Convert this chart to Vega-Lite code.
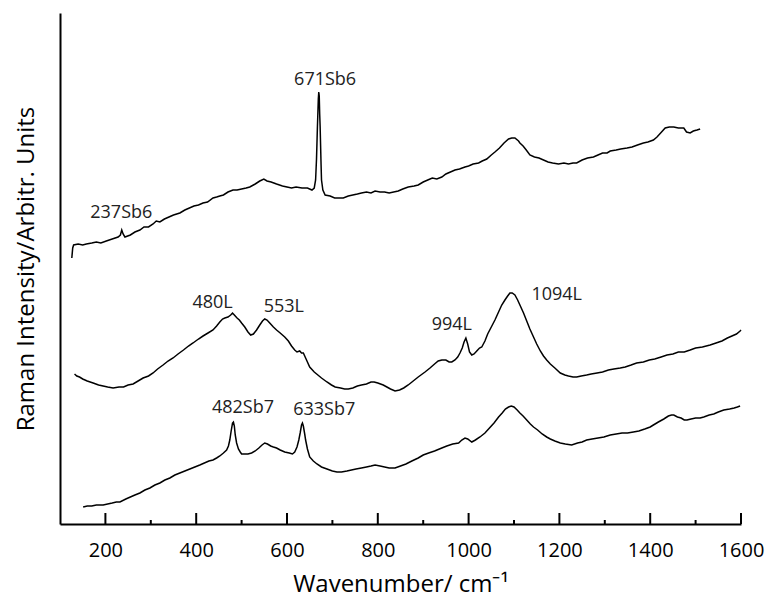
{
  "$schema": "https://vega.github.io/schema/vega-lite/v6.json",
  "autosize": {"type": "none"},
  "width": 681,
  "height": 511,
  "padding": {"left": 60, "top": 13, "right": 27, "bottom": 77},
  "background": "white",
  "config": {
    "view": {"stroke": null},
    "font": "Open Sans",
    "axis": {"grid": false, "domainColor": "black", "domainWidth": 2, "tickColor": "black", "labelColor": "black", "titleColor": "black", "labelFont": "Open Sans", "titleFont": "Open Sans", "titleFontWeight": "normal"}
  },
  "datasets": {
    "spectra": [
      {"s":"Sb6","x":126,"y":266},{"s":"Sb6","x":128,"y":276},{"s":"Sb6","x":130,"y":279},{"s":"Sb6","x":140,"y":280},{"s":"Sb6","x":150,"y":279},{"s":"Sb6","x":158,"y":280},{"s":"Sb6","x":170,"y":281},{"s":"Sb6","x":180,"y":282},{"s":"Sb6","x":190,"y":281},{"s":"Sb6","x":202,"y":283},{"s":"Sb6","x":215,"y":285},{"s":"Sb6","x":228,"y":287},{"s":"Sb6","x":233,"y":289},{"s":"Sb6","x":236,"y":294},{"s":"Sb6","x":239,"y":290},{"s":"Sb6","x":243,"y":287},{"s":"Sb6","x":255,"y":289},{"s":"Sb6","x":265,"y":292},{"s":"Sb6","x":276,"y":294},{"s":"Sb6","x":285,"y":297},{"s":"Sb6","x":295,"y":297},{"s":"Sb6","x":305,"y":300},{"s":"Sb6","x":312,"y":303},{"s":"Sb6","x":320,"y":302},{"s":"Sb6","x":330,"y":305},{"s":"Sb6","x":340,"y":307},{"s":"Sb6","x":350,"y":309},{"s":"Sb6","x":364,"y":311},{"s":"Sb6","x":375,"y":314},{"s":"Sb6","x":385,"y":316},{"s":"Sb6","x":395,"y":318},{"s":"Sb6","x":405,"y":319},{"s":"Sb6","x":415,"y":321},{"s":"Sb6","x":425,"y":322},{"s":"Sb6","x":437,"y":326},{"s":"Sb6","x":445,"y":327},{"s":"Sb6","x":452,"y":328},{"s":"Sb6","x":460,"y":329},{"s":"Sb6","x":470,"y":332},{"s":"Sb6","x":481,"y":334},{"s":"Sb6","x":490,"y":334},{"s":"Sb6","x":500,"y":335},{"s":"Sb6","x":510,"y":336},{"s":"Sb6","x":518,"y":337},{"s":"Sb6","x":530,"y":340},{"s":"Sb6","x":540,"y":343},{"s":"Sb6","x":549,"y":345},{"s":"Sb6","x":556,"y":343},{"s":"Sb6","x":565,"y":342},{"s":"Sb6","x":577,"y":340},{"s":"Sb6","x":590,"y":338},{"s":"Sb6","x":600,"y":337},{"s":"Sb6","x":610,"y":336},{"s":"Sb6","x":620,"y":337},{"s":"Sb6","x":633,"y":336},{"s":"Sb6","x":645,"y":336},{"s":"Sb6","x":655,"y":334},{"s":"Sb6","x":660,"y":336},{"s":"Sb6","x":663,"y":344},{"s":"Sb6","x":665,"y":365},{"s":"Sb6","x":667,"y":397},{"s":"Sb6","x":669,"y":425},{"s":"Sb6","x":670,"y":432},{"s":"Sb6","x":671,"y":428},{"s":"Sb6","x":672,"y":410},{"s":"Sb6","x":673,"y":397},{"s":"Sb6","x":675,"y":360},{"s":"Sb6","x":676,"y":344},{"s":"Sb6","x":679,"y":334},{"s":"Sb6","x":684,"y":329},{"s":"Sb6","x":695,"y":328},{"s":"Sb6","x":705,"y":326},{"s":"Sb6","x":715,"y":326},{"s":"Sb6","x":724,"y":326},{"s":"Sb6","x":735,"y":328},{"s":"Sb6","x":745,"y":329},{"s":"Sb6","x":755,"y":330},{"s":"Sb6","x":764,"y":331},{"s":"Sb6","x":775,"y":332},{"s":"Sb6","x":785,"y":331},{"s":"Sb6","x":794,"y":333},{"s":"Sb6","x":805,"y":332},{"s":"Sb6","x":815,"y":332},{"s":"Sb6","x":825,"y":331},{"s":"Sb6","x":835,"y":332},{"s":"Sb6","x":845,"y":333},{"s":"Sb6","x":855,"y":335},{"s":"Sb6","x":867,"y":337},{"s":"Sb6","x":880,"y":338},{"s":"Sb6","x":889,"y":339},{"s":"Sb6","x":900,"y":342},{"s":"Sb6","x":910,"y":344},{"s":"Sb6","x":920,"y":346},{"s":"Sb6","x":930,"y":345},{"s":"Sb6","x":941,"y":347},{"s":"Sb6","x":950,"y":350},{"s":"Sb6","x":960,"y":352},{"s":"Sb6","x":970,"y":354},{"s":"Sb6","x":980,"y":355},{"s":"Sb6","x":992,"y":357},{"s":"Sb6","x":1000,"y":358},{"s":"Sb6","x":1010,"y":360},{"s":"Sb6","x":1022,"y":361},{"s":"Sb6","x":1030,"y":363},{"s":"Sb6","x":1040,"y":365},{"s":"Sb6","x":1050,"y":369},{"s":"Sb6","x":1058,"y":372},{"s":"Sb6","x":1068,"y":376},{"s":"Sb6","x":1078,"y":381},{"s":"Sb6","x":1088,"y":385},{"s":"Sb6","x":1095,"y":386},{"s":"Sb6","x":1102,"y":386},{"s":"Sb6","x":1110,"y":383},{"s":"Sb6","x":1113,"y":381},{"s":"Sb6","x":1120,"y":378},{"s":"Sb6","x":1127,"y":374},{"s":"Sb6","x":1135,"y":369},{"s":"Sb6","x":1145,"y":367},{"s":"Sb6","x":1155,"y":366},{"s":"Sb6","x":1165,"y":364},{"s":"Sb6","x":1175,"y":362},{"s":"Sb6","x":1185,"y":361},{"s":"Sb6","x":1198,"y":360},{"s":"Sb6","x":1210,"y":361},{"s":"Sb6","x":1220,"y":360},{"s":"Sb6","x":1230,"y":361},{"s":"Sb6","x":1238,"y":361},{"s":"Sb6","x":1250,"y":364},{"s":"Sb6","x":1262,"y":366},{"s":"Sb6","x":1275,"y":367},{"s":"Sb6","x":1285,"y":369},{"s":"Sb6","x":1295,"y":371},{"s":"Sb6","x":1305,"y":371},{"s":"Sb6","x":1312,"y":373},{"s":"Sb6","x":1325,"y":374},{"s":"Sb6","x":1335,"y":375},{"s":"Sb6","x":1349,"y":376},{"s":"Sb6","x":1360,"y":377},{"s":"Sb6","x":1372,"y":379},{"s":"Sb6","x":1385,"y":381},{"s":"Sb6","x":1395,"y":382},{"s":"Sb6","x":1407,"y":384},{"s":"Sb6","x":1415,"y":387},{"s":"Sb6","x":1425,"y":392},{"s":"Sb6","x":1433,"y":396},{"s":"Sb6","x":1442,"y":397},{"s":"Sb6","x":1452,"y":397},{"s":"Sb6","x":1462,"y":396},{"s":"Sb6","x":1474,"y":396},{"s":"Sb6","x":1480,"y":392},{"s":"Sb6","x":1488,"y":391},{"s":"Sb6","x":1495,"y":393},{"s":"Sb6","x":1503,"y":394},{"s":"Sb6","x":1510,"y":395},
      {"s":"L","x":132,"y":150},{"s":"L","x":137,"y":148},{"s":"L","x":143,"y":147},{"s":"L","x":150,"y":145},{"s":"L","x":160,"y":143},{"s":"L","x":173,"y":141},{"s":"L","x":185,"y":139},{"s":"L","x":195,"y":138},{"s":"L","x":205,"y":137},{"s":"L","x":217,"y":136},{"s":"L","x":230,"y":137},{"s":"L","x":240,"y":137},{"s":"L","x":250,"y":139},{"s":"L","x":261,"y":140},{"s":"L","x":272,"y":143},{"s":"L","x":283,"y":146},{"s":"L","x":295,"y":148},{"s":"L","x":305,"y":151},{"s":"L","x":315,"y":155},{"s":"L","x":327,"y":159},{"s":"L","x":338,"y":163},{"s":"L","x":349,"y":166},{"s":"L","x":360,"y":170},{"s":"L","x":372,"y":174},{"s":"L","x":383,"y":178},{"s":"L","x":393,"y":181},{"s":"L","x":405,"y":185},{"s":"L","x":415,"y":188},{"s":"L","x":426,"y":191},{"s":"L","x":437,"y":194},{"s":"L","x":445,"y":198},{"s":"L","x":452,"y":202},{"s":"L","x":458,"y":205},{"s":"L","x":463,"y":206},{"s":"L","x":470,"y":207},{"s":"L","x":476,"y":209},{"s":"L","x":480,"y":211},{"s":"L","x":484,"y":209},{"s":"L","x":490,"y":206},{"s":"L","x":495,"y":204},{"s":"L","x":500,"y":201},{"s":"L","x":507,"y":197},{"s":"L","x":514,"y":192},{"s":"L","x":520,"y":189},{"s":"L","x":526,"y":190},{"s":"L","x":533,"y":194},{"s":"L","x":540,"y":199},{"s":"L","x":546,"y":203},{"s":"L","x":551,"y":205},{"s":"L","x":556,"y":204},{"s":"L","x":562,"y":201},{"s":"L","x":570,"y":197},{"s":"L","x":577,"y":194},{"s":"L","x":585,"y":191},{"s":"L","x":595,"y":187},{"s":"L","x":603,"y":183},{"s":"L","x":610,"y":178},{"s":"L","x":617,"y":174},{"s":"L","x":622,"y":172},{"s":"L","x":628,"y":173},{"s":"L","x":632,"y":171},{"s":"L","x":636,"y":171},{"s":"L","x":642,"y":165},{"s":"L","x":650,"y":157},{"s":"L","x":660,"y":152},{"s":"L","x":668,"y":149},{"s":"L","x":676,"y":146},{"s":"L","x":688,"y":142},{"s":"L","x":698,"y":139},{"s":"L","x":706,"y":137},{"s":"L","x":718,"y":136},{"s":"L","x":727,"y":135},{"s":"L","x":735,"y":135},{"s":"L","x":745,"y":136},{"s":"L","x":755,"y":138},{"s":"L","x":764,"y":139},{"s":"L","x":775,"y":140},{"s":"L","x":785,"y":142},{"s":"L","x":792,"y":142},{"s":"L","x":800,"y":141},{"s":"L","x":806,"y":140},{"s":"L","x":812,"y":139},{"s":"L","x":820,"y":137},{"s":"L","x":828,"y":135},{"s":"L","x":838,"y":133},{"s":"L","x":848,"y":134},{"s":"L","x":857,"y":136},{"s":"L","x":867,"y":139},{"s":"L","x":878,"y":143},{"s":"L","x":889,"y":147},{"s":"L","x":904,"y":152},{"s":"L","x":915,"y":156},{"s":"L","x":925,"y":160},{"s":"L","x":933,"y":163},{"s":"L","x":941,"y":164},{"s":"L","x":950,"y":164},{"s":"L","x":957,"y":162},{"s":"L","x":963,"y":162},{"s":"L","x":970,"y":164},{"s":"L","x":976,"y":167},{"s":"L","x":981,"y":171},{"s":"L","x":986,"y":176},{"s":"L","x":990,"y":182},{"s":"L","x":994,"y":186},{"s":"L","x":998,"y":180},{"s":"L","x":1002,"y":172},{"s":"L","x":1007,"y":169},{"s":"L","x":1012,"y":170},{"s":"L","x":1018,"y":173},{"s":"L","x":1024,"y":176},{"s":"L","x":1029,"y":177},{"s":"L","x":1036,"y":183},{"s":"L","x":1042,"y":190},{"s":"L","x":1050,"y":197},{"s":"L","x":1058,"y":204},{"s":"L","x":1066,"y":212},{"s":"L","x":1073,"y":219},{"s":"L","x":1080,"y":224},{"s":"L","x":1086,"y":228},{"s":"L","x":1091,"y":231},{"s":"L","x":1096,"y":231},{"s":"L","x":1102,"y":229},{"s":"L","x":1108,"y":224},{"s":"L","x":1114,"y":218},{"s":"L","x":1121,"y":211},{"s":"L","x":1128,"y":203},{"s":"L","x":1135,"y":195},{"s":"L","x":1143,"y":187},{"s":"L","x":1150,"y":180},{"s":"L","x":1158,"y":173},{"s":"L","x":1165,"y":168},{"s":"L","x":1172,"y":164},{"s":"L","x":1180,"y":160},{"s":"L","x":1190,"y":156},{"s":"L","x":1202,"y":151},{"s":"L","x":1212,"y":149},{"s":"L","x":1220,"y":148},{"s":"L","x":1230,"y":147},{"s":"L","x":1238,"y":147},{"s":"L","x":1248,"y":148},{"s":"L","x":1260,"y":149},{"s":"L","x":1270,"y":150},{"s":"L","x":1283,"y":151},{"s":"L","x":1295,"y":152},{"s":"L","x":1308,"y":154},{"s":"L","x":1320,"y":155},{"s":"L","x":1334,"y":156},{"s":"L","x":1345,"y":157},{"s":"L","x":1358,"y":159},{"s":"L","x":1370,"y":161},{"s":"L","x":1385,"y":162},{"s":"L","x":1398,"y":164},{"s":"L","x":1410,"y":165},{"s":"L","x":1424,"y":167},{"s":"L","x":1437,"y":169},{"s":"L","x":1450,"y":170},{"s":"L","x":1462,"y":172},{"s":"L","x":1475,"y":172},{"s":"L","x":1488,"y":174},{"s":"L","x":1500,"y":176},{"s":"L","x":1515,"y":177},{"s":"L","x":1532,"y":179},{"s":"L","x":1545,"y":181},{"s":"L","x":1558,"y":183},{"s":"L","x":1570,"y":186},{"s":"L","x":1580,"y":188},{"s":"L","x":1590,"y":190},{"s":"L","x":1598,"y":193},{"s":"L","x":1600,"y":194},
      {"s":"Sb7","x":151,"y":17},{"s":"Sb7","x":160,"y":18},{"s":"Sb7","x":170,"y":18},{"s":"Sb7","x":180,"y":19},{"s":"Sb7","x":195,"y":19},{"s":"Sb7","x":205,"y":20},{"s":"Sb7","x":215,"y":21},{"s":"Sb7","x":224,"y":22},{"s":"Sb7","x":232,"y":22},{"s":"Sb7","x":245,"y":25},{"s":"Sb7","x":255,"y":27},{"s":"Sb7","x":265,"y":29},{"s":"Sb7","x":276,"y":31},{"s":"Sb7","x":287,"y":34},{"s":"Sb7","x":298,"y":36},{"s":"Sb7","x":309,"y":39},{"s":"Sb7","x":320,"y":41},{"s":"Sb7","x":331,"y":44},{"s":"Sb7","x":342,"y":46},{"s":"Sb7","x":353,"y":49},{"s":"Sb7","x":364,"y":51},{"s":"Sb7","x":375,"y":53},{"s":"Sb7","x":386,"y":55},{"s":"Sb7","x":397,"y":57},{"s":"Sb7","x":408,"y":59},{"s":"Sb7","x":418,"y":61},{"s":"Sb7","x":428,"y":63},{"s":"Sb7","x":437,"y":64},{"s":"Sb7","x":445,"y":66},{"s":"Sb7","x":452,"y":68},{"s":"Sb7","x":460,"y":71},{"s":"Sb7","x":467,"y":74},{"s":"Sb7","x":471,"y":78},{"s":"Sb7","x":474,"y":84},{"s":"Sb7","x":477,"y":93},{"s":"Sb7","x":480,"y":101},{"s":"Sb7","x":482,"y":102},{"s":"Sb7","x":484,"y":98},{"s":"Sb7","x":486,"y":89},{"s":"Sb7","x":489,"y":81},{"s":"Sb7","x":493,"y":75},{"s":"Sb7","x":497,"y":72},{"s":"Sb7","x":500,"y":70},{"s":"Sb7","x":507,"y":70},{"s":"Sb7","x":514,"y":70},{"s":"Sb7","x":522,"y":71},{"s":"Sb7","x":530,"y":73},{"s":"Sb7","x":538,"y":76},{"s":"Sb7","x":545,"y":79},{"s":"Sb7","x":551,"y":81},{"s":"Sb7","x":557,"y":80},{"s":"Sb7","x":564,"y":78},{"s":"Sb7","x":570,"y":77},{"s":"Sb7","x":577,"y":76},{"s":"Sb7","x":585,"y":74},{"s":"Sb7","x":595,"y":72},{"s":"Sb7","x":605,"y":71},{"s":"Sb7","x":612,"y":70},{"s":"Sb7","x":617,"y":72},{"s":"Sb7","x":622,"y":77},{"s":"Sb7","x":626,"y":84},{"s":"Sb7","x":629,"y":91},{"s":"Sb7","x":632,"y":99},{"s":"Sb7","x":634,"y":101},{"s":"Sb7","x":636,"y":98},{"s":"Sb7","x":639,"y":90},{"s":"Sb7","x":641,"y":84},{"s":"Sb7","x":645,"y":75},{"s":"Sb7","x":650,"y":67},{"s":"Sb7","x":658,"y":63},{"s":"Sb7","x":666,"y":60},{"s":"Sb7","x":676,"y":57},{"s":"Sb7","x":688,"y":55},{"s":"Sb7","x":700,"y":53},{"s":"Sb7","x":710,"y":52},{"s":"Sb7","x":720,"y":52},{"s":"Sb7","x":732,"y":53},{"s":"Sb7","x":742,"y":54},{"s":"Sb7","x":752,"y":55},{"s":"Sb7","x":764,"y":56},{"s":"Sb7","x":775,"y":57},{"s":"Sb7","x":785,"y":58},{"s":"Sb7","x":794,"y":59},{"s":"Sb7","x":805,"y":58},{"s":"Sb7","x":815,"y":57},{"s":"Sb7","x":825,"y":56},{"s":"Sb7","x":838,"y":56},{"s":"Sb7","x":850,"y":58},{"s":"Sb7","x":862,"y":60},{"s":"Sb7","x":875,"y":63},{"s":"Sb7","x":889,"y":66},{"s":"Sb7","x":900,"y":69},{"s":"Sb7","x":912,"y":71},{"s":"Sb7","x":925,"y":73},{"s":"Sb7","x":941,"y":76},{"s":"Sb7","x":952,"y":78},{"s":"Sb7","x":965,"y":80},{"s":"Sb7","x":978,"y":81},{"s":"Sb7","x":985,"y":84},{"s":"Sb7","x":992,"y":86},{"s":"Sb7","x":998,"y":85},{"s":"Sb7","x":1007,"y":82},{"s":"Sb7","x":1015,"y":84},{"s":"Sb7","x":1025,"y":87},{"s":"Sb7","x":1036,"y":91},{"s":"Sb7","x":1046,"y":96},{"s":"Sb7","x":1056,"y":101},{"s":"Sb7","x":1066,"y":107},{"s":"Sb7","x":1074,"y":111},{"s":"Sb7","x":1081,"y":115},{"s":"Sb7","x":1088,"y":117},{"s":"Sb7","x":1094,"y":118},{"s":"Sb7","x":1100,"y":117},{"s":"Sb7","x":1107,"y":114},{"s":"Sb7","x":1113,"y":111},{"s":"Sb7","x":1120,"y":108},{"s":"Sb7","x":1128,"y":104},{"s":"Sb7","x":1136,"y":100},{"s":"Sb7","x":1143,"y":97},{"s":"Sb7","x":1152,"y":94},{"s":"Sb7","x":1162,"y":90},{"s":"Sb7","x":1172,"y":87},{"s":"Sb7","x":1180,"y":85},{"s":"Sb7","x":1190,"y":83},{"s":"Sb7","x":1202,"y":81},{"s":"Sb7","x":1213,"y":80},{"s":"Sb7","x":1227,"y":79},{"s":"Sb7","x":1240,"y":81},{"s":"Sb7","x":1250,"y":82},{"s":"Sb7","x":1260,"y":84},{"s":"Sb7","x":1272,"y":85},{"s":"Sb7","x":1285,"y":86},{"s":"Sb7","x":1298,"y":87},{"s":"Sb7","x":1312,"y":89},{"s":"Sb7","x":1325,"y":90},{"s":"Sb7","x":1338,"y":91},{"s":"Sb7","x":1350,"y":91},{"s":"Sb7","x":1363,"y":92},{"s":"Sb7","x":1375,"y":93},{"s":"Sb7","x":1388,"y":95},{"s":"Sb7","x":1400,"y":97},{"s":"Sb7","x":1407,"y":99},{"s":"Sb7","x":1418,"y":102},{"s":"Sb7","x":1430,"y":105},{"s":"Sb7","x":1440,"y":108},{"s":"Sb7","x":1447,"y":109},{"s":"Sb7","x":1452,"y":109},{"s":"Sb7","x":1460,"y":107},{"s":"Sb7","x":1468,"y":106},{"s":"Sb7","x":1475,"y":104},{"s":"Sb7","x":1481,"y":104},{"s":"Sb7","x":1490,"y":105},{"s":"Sb7","x":1500,"y":106},{"s":"Sb7","x":1510,"y":106},{"s":"Sb7","x":1518,"y":107},{"s":"Sb7","x":1530,"y":109},{"s":"Sb7","x":1540,"y":110},{"s":"Sb7","x":1550,"y":112},{"s":"Sb7","x":1562,"y":114},{"s":"Sb7","x":1575,"y":115},{"s":"Sb7","x":1585,"y":116},{"s":"Sb7","x":1592,"y":117},{"s":"Sb7","x":1598,"y":118}
    ],
    "labels": [
      {"label":"671Sb6","x":684,"y":444},
      {"label":"237Sb6","x":235,"y":311},
      {"label":"480L","x":436,"y":221},
      {"label":"553L","x":593,"y":217},
      {"label":"994L","x":963,"y":199},
      {"label":"1094L","x":1194,"y":229},
      {"label":"482Sb7","x":503,"y":116},
      {"label":"633Sb7","x":682,"y":114}
    ],
    "majorTicks": [
      {"v":200},{"v":400},{"v":600},{"v":800},{"v":1000},{"v":1200},{"v":1400},{"v":1600}
    ],
    "minorTicks": [
      {"v":300},{"v":500},{"v":700},{"v":900},{"v":1100},{"v":1300},{"v":1500}
    ]
  },
  "layer": [
    {
      "data": {"name": "spectra"},
      "mark": {"type": "line", "color": "black", "strokeWidth": 1.5},
      "encoding": {
        "x": {
          "field": "x", "type": "quantitative",
          "scale": {"domain": [100, 1600], "nice": false, "zero": false},
          "axis": {
            "title": "Wavenumber/ cm⁻¹",
            "values": [200, 400, 600, 800, 1000, 1200, 1400, 1600],
            "format": "d",
            "domain": true,
            "ticks": false,
            "labelPadding": 16,
            "labelFontSize": 20,
            "labelFlush": false,
            "titleFontSize": 24,
            "titlePadding": 12
          }
        },
        "y": {
          "field": "y", "type": "quantitative",
          "scale": {"domain": [0, 511], "nice": false},
          "axis": {
            "title": "Raman Intensity/Arbitr. Units",
            "ticks": false, "labels": false,
            "titleFontSize": 24,
            "titlePadding": 22
          }
        },
        "detail": {"field": "s", "type": "nominal"}
      }
    },
    {
      "data": {"name": "labels"},
      "mark": {"type": "text", "font": "Open Sans", "fontSize": 18, "color": "#222222", "baseline": "middle", "align": "center"},
      "encoding": {
        "x": {"field": "x", "type": "quantitative"},
        "y": {"field": "y", "type": "quantitative"},
        "text": {"field": "label"}
      }
    },
    {
      "data": {"name": "majorTicks"},
      "mark": {"type": "rule", "color": "black", "strokeWidth": 2},
      "encoding": {
        "x": {"field": "v", "type": "quantitative"},
        "y": {"datum": 0, "type": "quantitative"},
        "y2": {"datum": 11}
      }
    },
    {
      "data": {"name": "minorTicks"},
      "mark": {"type": "rule", "color": "black", "strokeWidth": 2},
      "encoding": {
        "x": {"field": "v", "type": "quantitative"},
        "y": {"datum": 0, "type": "quantitative"},
        "y2": {"datum": 4}
      }
    }
  ]
}
